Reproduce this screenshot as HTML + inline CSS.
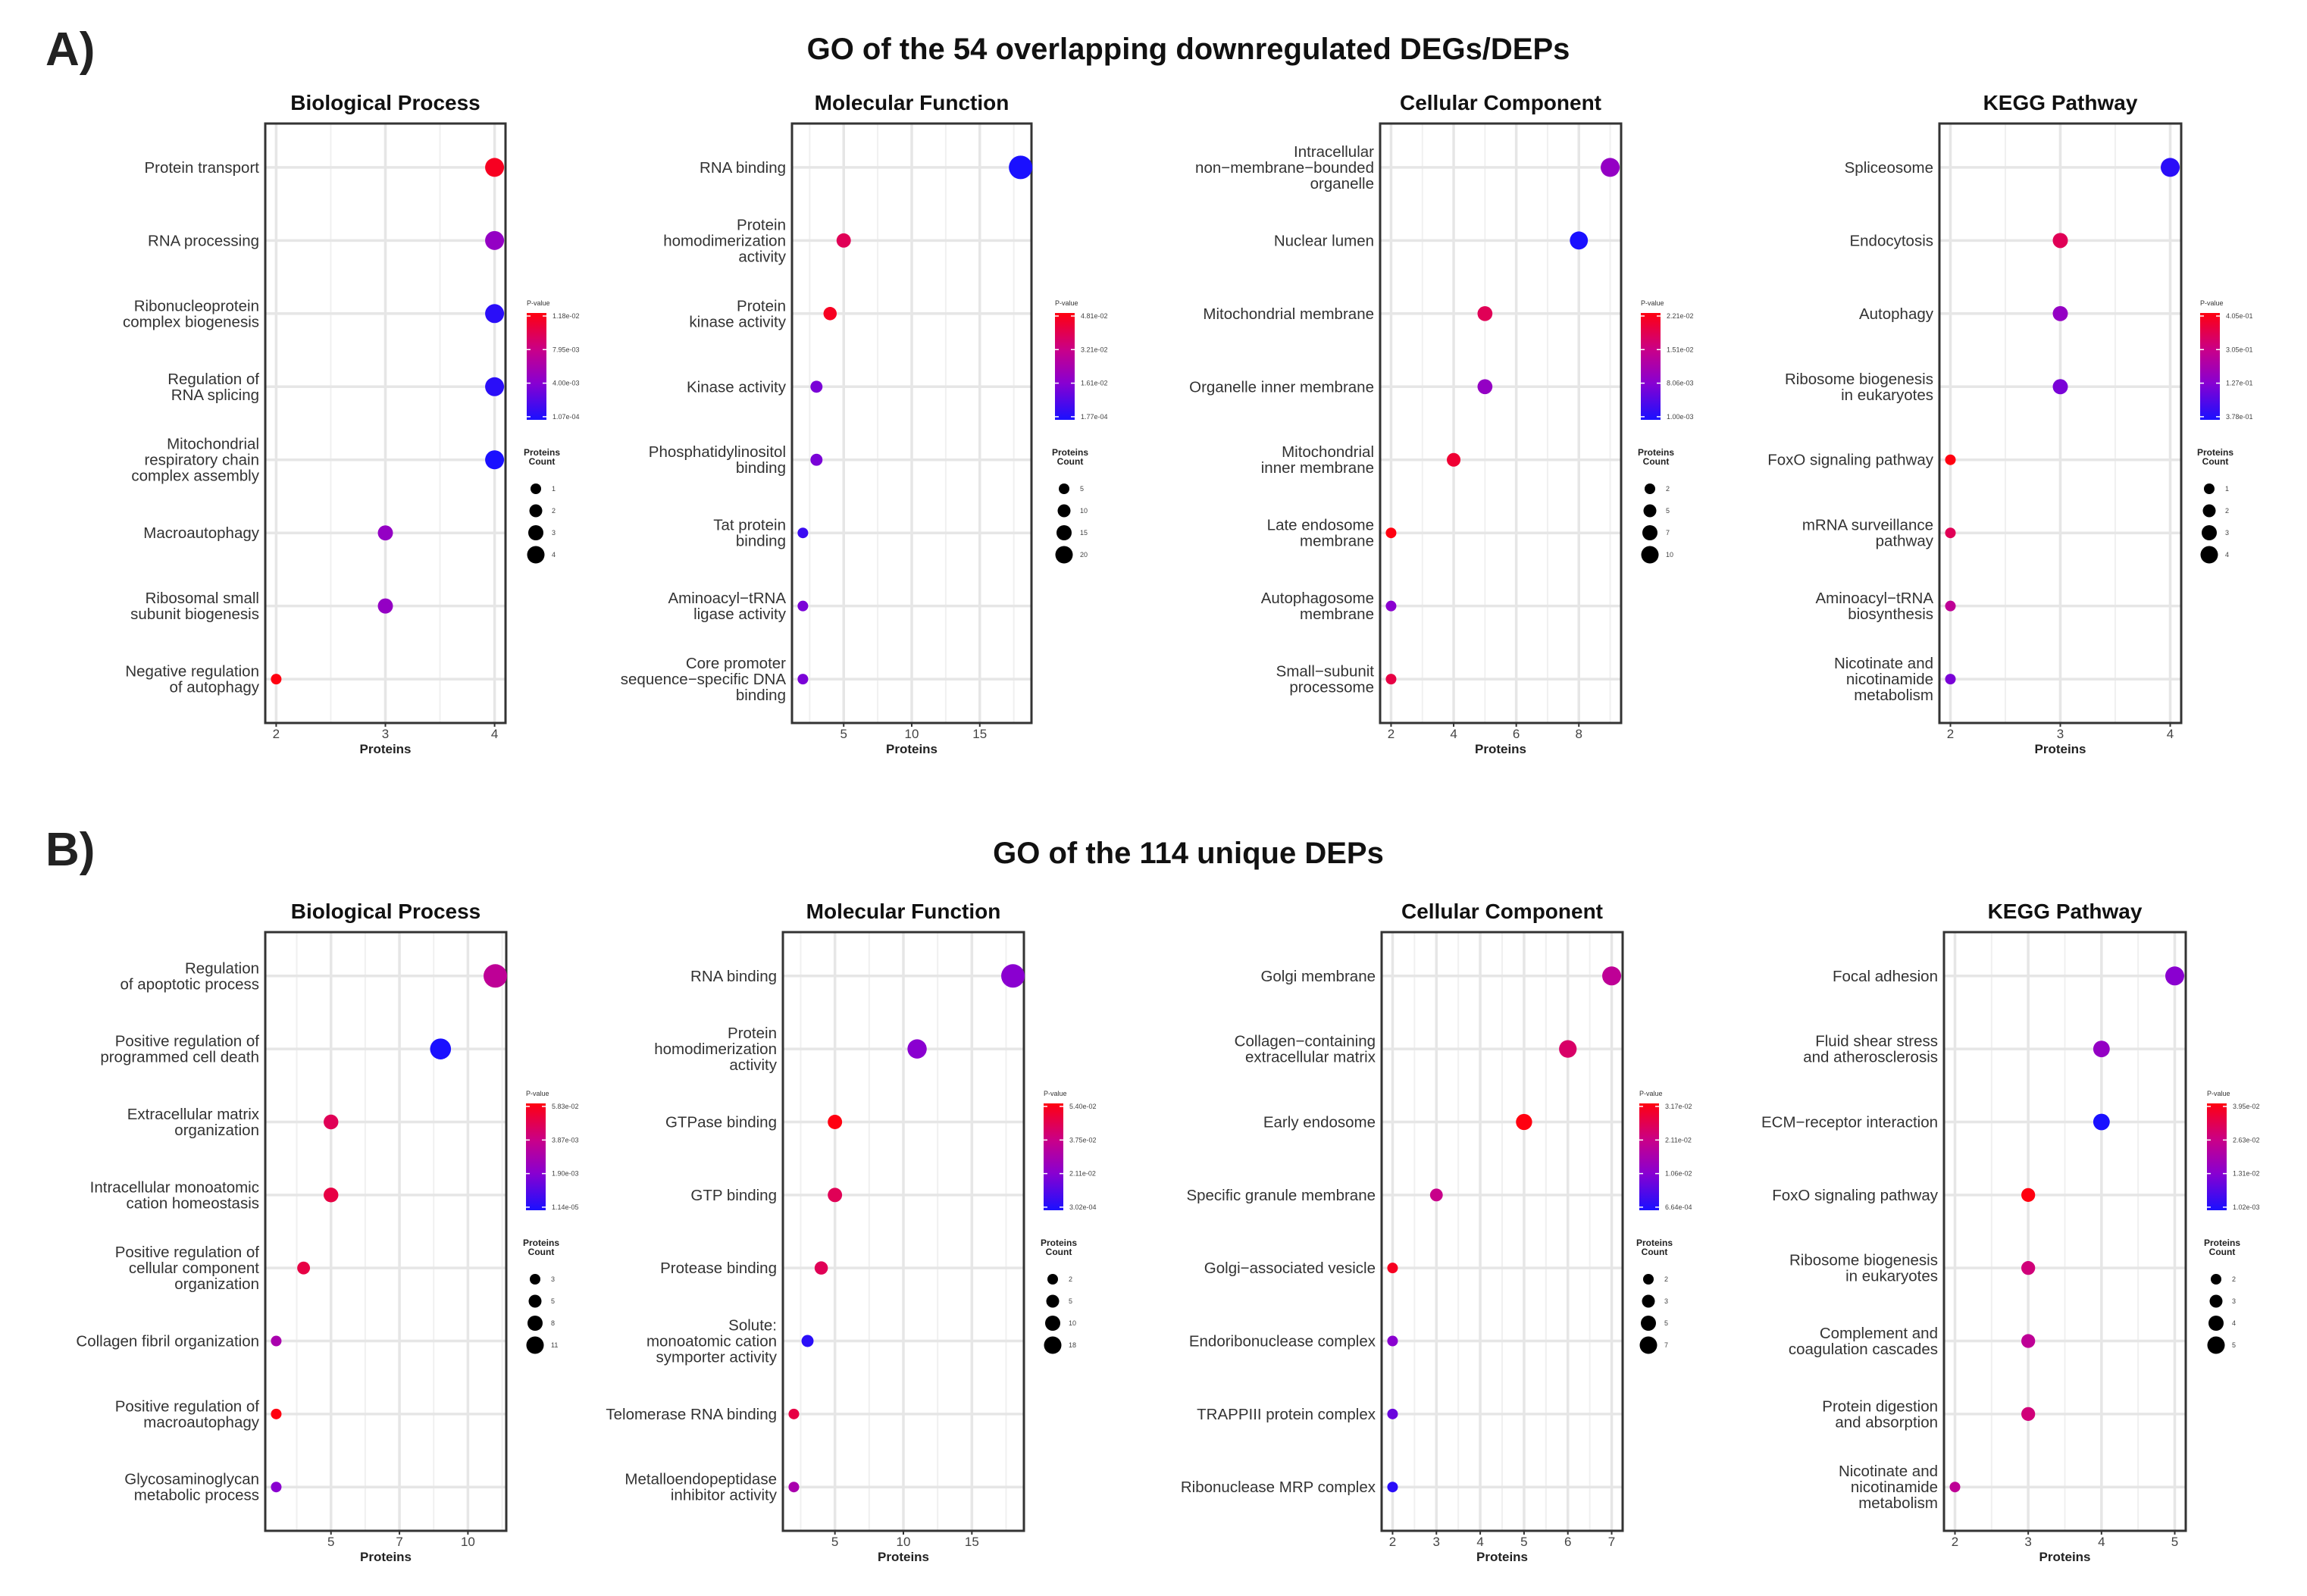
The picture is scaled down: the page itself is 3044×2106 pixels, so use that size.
<!DOCTYPE html>
<html><head><meta charset="utf-8"><style>
html,body{margin:0;padding:0;background:#fff;}
svg{display:block;}
text{font-family:"Liberation Sans",sans-serif;}
</style></head><body>
<svg id="fig" width="3044" height="2106" viewBox="0 0 3044 2106" xmlns="http://www.w3.org/2000/svg">
<defs>
<linearGradient id="pg" x1="0" y1="1" x2="0" y2="0">
<stop offset="0" stop-color="#1a10ff"/><stop offset="0.35" stop-color="#8a00d0"/><stop offset="0.65" stop-color="#c8008a"/><stop offset="1" stop-color="#ff0010"/>
</linearGradient>
</defs>
<text x="60" y="86" font-size="62" font-weight="bold" fill="#222">A)</text>
<text x="1568" y="78" font-size="40" font-weight="bold" fill="#111" text-anchor="middle">GO of the 54 overlapping downregulated DEGs/DEPs</text>
<text x="60" y="1142" font-size="62" font-weight="bold" fill="#222">B)</text>
<text x="1568" y="1139" font-size="40" font-weight="bold" fill="#111" text-anchor="middle">GO of the 114 unique DEPs</text>
</svg>
<script>
// ---- data ----
const aBPTerms = ["Protein transport","RNA processing","Ribonucleoprotein|complex biogenesis","Regulation of|RNA splicing","Mitochondrial|respiratory chain|complex assembly","Macroautophagy","Ribosomal small|subunit biogenesis","Negative regulation|of autophagy"];
const aBPCounts = [4,4,4,4,4,3,3,2];
const aBPColor = [0.95,0.4,0.05,0.05,0.0,0.4,0.4,1.0];
const aMFTerms = ["RNA binding","Protein|homodimerization|activity","Protein|kinase activity","Kinase activity","Phosphatidylinositol|binding","Tat protein|binding","Aminoacyl-tRNA|ligase activity","Core promoter|sequence-specific DNA|binding"];
const aMFCounts = [18,5,4,3,3,2,2,2];
const aMFColor = [0.0,0.8,0.95,0.3,0.3,0.1,0.3,0.3];
const aCCTerms = ["Intracellular|non-membrane-bounded|organelle","Nuclear lumen","Mitochondrial membrane","Organelle inner membrane","Mitochondrial|inner membrane","Late endosome|membrane","Autophagosome|membrane","Small-subunit|processome"];
const aCCCounts = [9,8,5,5,4,2,2,2];
const aCCColor = [0.4,0.0,0.8,0.4,0.9,1.0,0.35,0.85];
const aKGTerms = ["Spliceosome","Endocytosis","Autophagy","Ribosome biogenesis|in eukaryotes","FoxO signaling pathway","mRNA surveillance|pathway","Aminoacyl-tRNA|biosynthesis","Nicotinate and|nicotinamide|metabolism"];
const aKGCounts = [4,3,3,3,2,2,2,2];
const aKGColor = [0.05,0.8,0.4,0.3,1.0,0.8,0.6,0.3];
const bBPTerms = ["Regulation|of apoptotic process","Positive regulation of|programmed cell death","Extracellular matrix|organization","Intracellular monoatomic|cation homeostasis","Positive regulation of|cellular component|organization","Collagen fibril organization","Positive regulation of|macroautophagy","Glycosaminoglycan|metabolic process"];
const bBPCounts = [11,9,5,5,4,3,3,3];
const bBPColor = [0.6,0.0,0.8,0.85,0.85,0.5,1.0,0.35];
const bMFTerms = ["RNA binding","Protein|homodimerization|activity","GTPase binding","GTP binding","Protease binding","Solute:|monoatomic cation|symporter activity","Telomerase RNA binding","Metalloendopeptidase|inhibitor activity"];
const bMFCounts = [18,11,5,5,4,3,2,2];
const bMFColor = [0.35,0.35,1.0,0.8,0.8,0.05,0.85,0.5];
const bCCTerms = ["Golgi membrane","Collagen-containing|extracellular matrix","Early endosome","Specific granule membrane","Golgi-associated vesicle","Endoribonuclease complex","TRAPPIII protein complex","Ribonuclease MRP complex"];
const bCCCounts = [7,6,5,3,2,2,2,2];
const bCCColor = [0.6,0.75,1.0,0.65,0.95,0.35,0.25,0.05];
const bKGTerms = ["Focal adhesion","Fluid shear stress|and atherosclerosis","ECM-receptor interaction","FoxO signaling pathway","Ribosome biogenesis|in eukaryotes","Complement and|coagulation cascades","Protein digestion|and absorption","Nicotinate and|nicotinamide|metabolism"];
const bKGCounts = [5,4,4,3,3,3,3,2];
const bKGColor = [0.35,0.4,0.0,1.0,0.7,0.6,0.7,0.6];
const aBPTicks=[2,3,4], aMFTicks=[5,10,15], aCCTicks=[2,4,6,8], aKGTicks=[2,3,4];
const bBPTicks=[5,7.5,10], bBPTickLabels=["5","7","10"], bMFTicks=[5,10,15], bCCTicks=[2,3,4,5,6,7], bKGTicks=[2,3,4,5];
const aBPLeg=["1.18e-02","7.95e-03","4.00e-03","1.07e-04"], aMFLeg=["4.81e-02","3.21e-02","1.61e-02","1.77e-04"], aCCLeg=["2.21e-02","1.51e-02","8.06e-03","1.00e-03"], aKGLeg=["4.05e-01","3.05e-01","1.27e-01","3.78e-01"];
const bBPLeg=["5.83e-02","3.87e-03","1.90e-03","1.14e-05"], bMFLeg=["5.40e-02","3.75e-02","2.11e-02","3.02e-04"], bCCLeg=["3.17e-02","2.11e-02","1.06e-02","6.64e-04"], bKGLeg=["3.95e-02","2.63e-02","1.31e-02","1.02e-03"];
const aBPSz=["1","2","3","4"], aMFSz=["5","10","15","20"], aCCSz=["2","5","7","10"], aKGSz=["1","2","3","4"];
const bBPSz=["3","5","8","11"], bMFSz=["2","5","10","18"], bCCSz=["2","3","5","7"], bKGSz=["2","3","4","5"];

const NS="http://www.w3.org/2000/svg";
const svg=document.getElementById('fig');
function mk(tag,attrs,parent){const e=document.createElementNS(NS,tag);for(const k in attrs)e.setAttribute(k,attrs[k]);(parent||svg).appendChild(e);return e;}
function lerp(a,b,t){return Math.round(a+(b-a)*t);}
function pcol(t){
  const st=[[0,[26,16,255]],[0.35,[138,0,208]],[0.65,[200,0,138]],[1,[255,0,16]]];
  for(let i=0;i<st.length-1;i++){if(t<=st[i+1][0]){const u=(t-st[i][0])/(st[i+1][0]-st[i][0]);const a=st[i][1],b=st[i+1][1];return `rgb(${lerp(a[0],b[0],u)},${lerp(a[1],b[1],u)},${lerp(a[2],b[2],u)})`;}}
  return 'rgb(255,0,16)';
}
function panel(o){
  const g=mk('g',{});
  
  
  const {x0,x1,y0,y1}=o;
  const min=Math.min(...o.counts), max=Math.max(...o.counts);
  const pad=(max-min)*0.05;
  const lo=min-pad, hi=max+pad;
  const xs=v=>x0+(v-lo)/(hi-lo)*(x1-x0);
  const n=o.terms.length, unit=(y1-y0)/(n-1+1.2);
  const ys=i=>y0+(0.6+i)*unit;
  const t=mk('text',{x:(x0+x1)/2,y:y0-18,'font-size':28,'font-weight':'bold','text-anchor':'middle',fill:'#111'},g);
  t.textContent=o.title;
  
  
  const ticks=o.ticks;
  if(ticks.length>1){const step=ticks[1]-ticks[0];
    for(let v=ticks[0]-step/2;v<=hi;v+=step){if(v>=lo){const l=mk('line',{x1:xs(v),x2:xs(v),y1:y0,y2:y1,stroke:'#f0f0f0','stroke-width':2},g);}}}
  ticks.forEach(v=>{const l=mk('line',{x1:xs(v),x2:xs(v),y1:y0,y2:y1,stroke:'#e6e6e6','stroke-width':3.5},g);});
  for(let i=0;i<n;i++){const l=mk('line',{x1:x0,x2:x1,y1:ys(i),y2:ys(i),stroke:'#e6e6e6','stroke-width':3.5},g);}
  const box=mk('rect',{x:x0,y:y0,width:x1-x0,height:y1-y0,fill:'none',stroke:'#333','stroke-width':3},g);
  
  
  ticks.forEach((v,i)=>{
    mk('line',{x1:xs(v),x2:xs(v),y1:y1,y2:y1+5,stroke:'#333','stroke-width':2},g);
    const tl=mk('text',{x:xs(v),y:y1+20,'font-size':17,'text-anchor':'middle',fill:'#444'},g);
    tl.textContent=o.tickLabels?o.tickLabels[i]:String(v);
    
    
  });
  const xt=mk('text',{x:(x0+x1)/2,y:y1+40,'font-size':17,'font-weight':'bold','text-anchor':'middle',fill:'#222'},g);
  xt.textContent='Proteins';
  
  
  const rmax=max>=10?15.5:12.5, rmin=7;
  const smin=Math.sqrt(min), smax=Math.sqrt(max);
  const rad=c=>smax===smin?rmax:rmin+(rmax-rmin)*(Math.sqrt(c)-smin)/(smax-smin);
  o.terms.forEach((term,i)=>{
    const lines=term.split('|');
    const lh=21;
    const tt=mk('text',{'font-size':20.5,'text-anchor':'end',fill:'#333'},g);
    
    
    lines.forEach((ln,k)=>{const ts=mk('tspan',{x:x0-8,y:ys(i)+7+(k-(lines.length-1)/2)*lh},tt);ts.textContent=ln.replace(/-/g,'\u2212');});
    const c=mk('circle',{cx:xs(o.counts[i]),cy:ys(i),r:rad(o.counts[i]),fill:pcol(o.colors[i])},g);
    
    
  });
  const lx=o.lx, ly=o.ly;
  const pt=mk('text',{x:lx,y:ly-10,'font-size':9,fill:'#333'},g);
  pt.textContent='P-value';
  
  
  const cb=mk('rect',{x:lx,y:ly,width:26,height:141,fill:'url(#pg)'},g);
  
  
  o.leg.forEach((s,k)=>{
    const yy=ly+4+k*44.3;
    mk('line',{x1:lx,x2:lx+5,y1:yy,y2:yy,stroke:'#fff','stroke-width':1.5},g);
    mk('line',{x1:lx+21,x2:lx+26,y1:yy,y2:yy,stroke:'#fff','stroke-width':1.5},g);
    const l=mk('text',{x:lx+34,y:yy+3,'font-size':9,fill:'#444'},g);
    l.textContent=s;
    
    
  });
  const st=mk('text',{'font-size':12,'font-weight':'bold','text-anchor':'middle',fill:'#222'},g);
  
  
  [['Proteins',ly+188],['Count',ly+200]].forEach(([s,yy])=>{const ts=mk('tspan',{x:lx+20,y:yy},st);ts.textContent=s;});
  o.sz.forEach((s,k)=>{
    const yy=ly+232+k*29;
    const d=mk('circle',{cx:lx+12,cy:yy,r:7+k*1.5,fill:'#000'},g);
    
    
    const l=mk('text',{x:lx+33,y:yy+3,'font-size':9,fill:'#444'},g);
    l.textContent=s;
    
    
  });
}
const AY0=163,AY1=954,BY0=1230,BY1=2020;
panel({name:'a-biological-process',title:'Biological Process',terms:aBPTerms,counts:aBPCounts,colors:aBPColor,ticks:aBPTicks,leg:aBPLeg,sz:aBPSz,x0:350,x1:667,y0:AY0,y1:AY1,lx:695,ly:413});
panel({name:'a-molecular-function',title:'Molecular Function',terms:aMFTerms,counts:aMFCounts,colors:aMFColor,ticks:aMFTicks,leg:aMFLeg,sz:aMFSz,x0:1045,x1:1361,y0:AY0,y1:AY1,lx:1392,ly:413});
panel({name:'a-cellular-component',title:'Cellular Component',terms:aCCTerms,counts:aCCCounts,colors:aCCColor,ticks:aCCTicks,leg:aCCLeg,sz:aCCSz,x0:1821,x1:2139,y0:AY0,y1:AY1,lx:2165,ly:413});
panel({name:'a-kegg-pathway',title:'KEGG Pathway',terms:aKGTerms,counts:aKGCounts,colors:aKGColor,ticks:aKGTicks,leg:aKGLeg,sz:aKGSz,x0:2559,x1:2878,y0:AY0,y1:AY1,lx:2903,ly:413});
panel({name:'b-biological-process',title:'Biological Process',terms:bBPTerms,counts:bBPCounts,colors:bBPColor,ticks:bBPTicks,tickLabels:bBPTickLabels,leg:bBPLeg,sz:bBPSz,x0:350,x1:668,y0:BY0,y1:BY1,lx:694,ly:1456});
panel({name:'b-molecular-function',title:'Molecular Function',terms:bMFTerms,counts:bMFCounts,colors:bMFColor,ticks:bMFTicks,leg:bMFLeg,sz:bMFSz,x0:1033,x1:1351,y0:BY0,y1:BY1,lx:1377,ly:1456});
panel({name:'b-cellular-component',title:'Cellular Component',terms:bCCTerms,counts:bCCCounts,colors:bCCColor,ticks:bCCTicks,leg:bCCLeg,sz:bCCSz,x0:1823,x1:2141,y0:BY0,y1:BY1,lx:2163,ly:1456});
panel({name:'b-kegg-pathway',title:'KEGG Pathway',terms:bKGTerms,counts:bKGCounts,colors:bKGColor,ticks:bKGTicks,leg:bKGLeg,sz:bKGSz,x0:2565,x1:2884,y0:BY0,y1:BY1,lx:2912,ly:1456});
</script>
</body></html>
